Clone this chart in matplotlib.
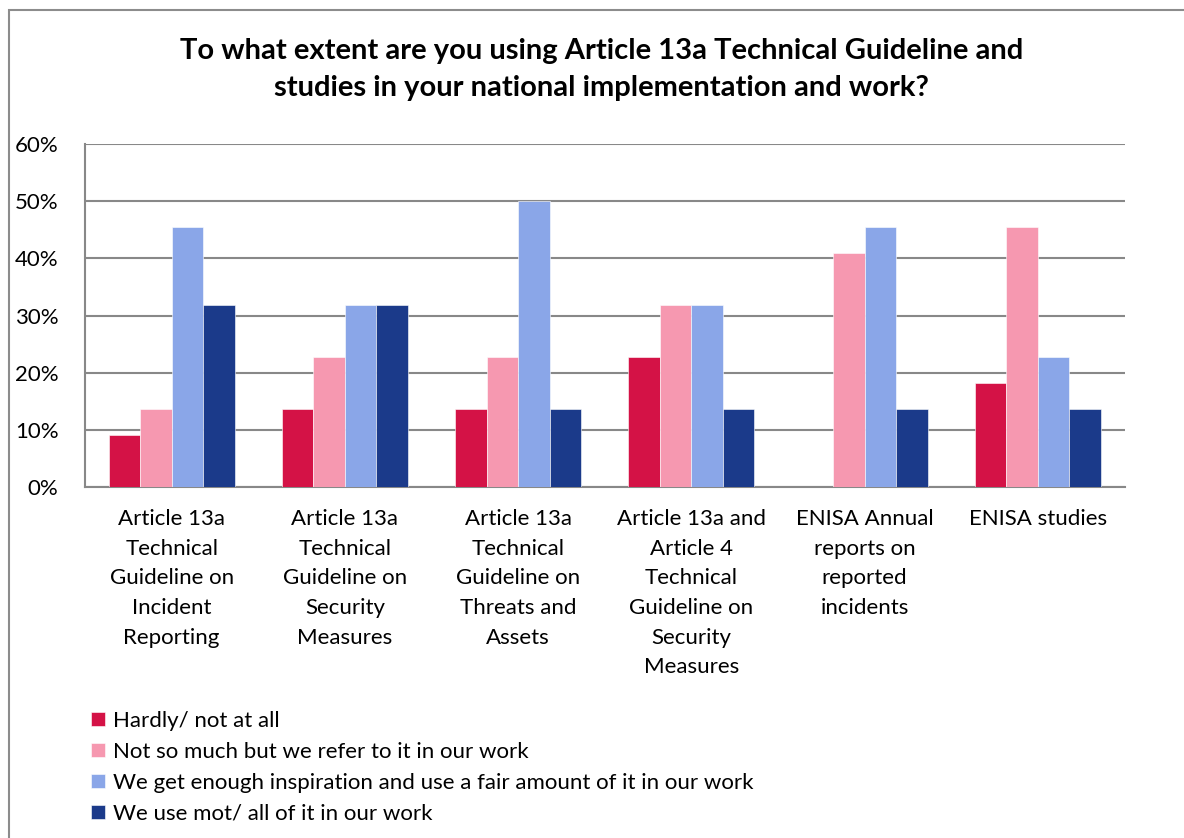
import matplotlib.pyplot as plt
import numpy as np
from matplotlib.patches import Rectangle
from matplotlib.ticker import PercentFormatter

categories = [
    "Article 13a\nTechnical\nGuideline on\nIncident\nReporting",
    "Article 13a\nTechnical\nGuideline on\nSecurity\nMeasures",
    "Article 13a\nTechnical\nGuideline on\nThreats and\nAssets",
    "Article 13a and\nArticle 4\nTechnical\nGuideline on\nSecurity\nMeasures",
    "ENISA Annual\nreports on\nreported\nincidents",
    "ENISA studies",
]
series_names = [
    "Hardly/ not at all",
    "Not so much but we refer to it in our work",
    "We get enough inspiration and use a fair amount of it in our work",
    "We use mot/ all of it in our work",
]
# share of respondents (%) per category
hardly = [9.1, 13.6, 13.6, 22.7, 0.0, 18.2]
not_much = [13.6, 22.7, 22.7, 31.8, 40.9, 45.5]
fair_amount = [45.5, 31.8, 50.0, 31.8, 45.5, 22.7]
most_all = [31.8, 31.8, 13.6, 13.6, 13.6, 13.6]
series = [hardly, not_much, fair_amount, most_all]
colors = ["#D41246", "#F698B0", "#8AA6E8", "#1B3A8A"]

plt.rcParams["font.family"] = ["Lato", "DejaVu Sans"]
fs = 16

fig = plt.figure(figsize=(11.84, 8.38), dpi=100)
ax = fig.add_axes([0.0718, 0.419, 0.878, 0.409])

# outer chart frame
fig.patches.append(Rectangle((9 / 1184, -0.1), 1.2, 1 - 10 / 838 + 0.1,
                             transform=fig.transFigure, fill=False,
                             edgecolor="#8c8c8c", linewidth=1.5))

x = np.arange(len(categories))
w = 0.182
for i, (vals, c, name) in enumerate(zip(series, colors, series_names)):
    ax.bar(x + (i - 1.5) * w, vals, w, color=c, label=name,
           edgecolor="white", linewidth=0.4, zorder=3)

ax.set_xlim(-0.5, len(categories) - 0.5)
ax.set_ylim(0, 60)
ax.set_yticks(range(0, 61, 10))
ax.yaxis.set_major_formatter(PercentFormatter(decimals=0))
ax.grid(axis="y", color="#888888", linewidth=1.5, zorder=0)
ax.set_xticks(x)
ax.set_xticklabels(categories, fontsize=fs, linespacing=1.6, va="top")
ax.tick_params(axis="both", length=0, labelsize=fs)
ax.tick_params(axis="x", pad=16)
ax.tick_params(axis="y", pad=19)
for s in ["top", "right"]:
    ax.spines[s].set_visible(False)
for s in ["left", "bottom"]:
    ax.spines[s].set_color("#888888")
    ax.spines[s].set_linewidth(1.5)

fig.text(0.508, 0.917, "To what extent are you using Article 13a Technical Guideline and\n"
         "studies in your national implementation and work?",
         ha="center", va="center", fontsize=21, fontweight="bold", linespacing=1.55)

fig.legend(loc="upper left", bbox_to_anchor=(0.077, 0.152), frameon=False,
           fontsize=fs, handlelength=0.6, handleheight=0.6, handletextpad=0.4,
           labelspacing=0.5, borderpad=0, borderaxespad=0)

fig.savefig("out.png", dpi=100)
